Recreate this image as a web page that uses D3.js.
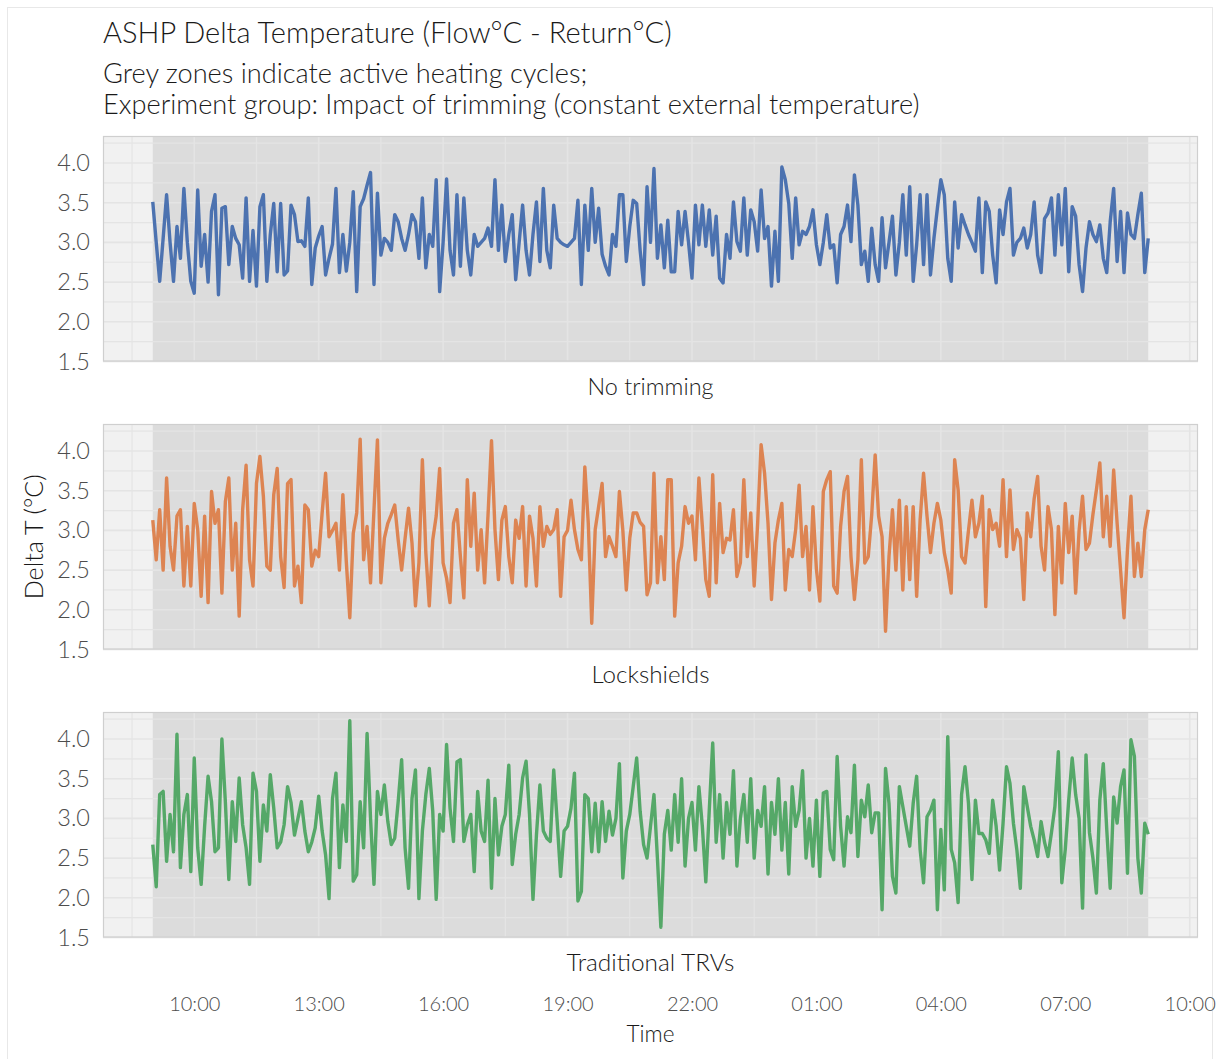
<!DOCTYPE html>
<html>
<head>
<meta charset="utf-8">
<script src="https://cdn.jsdelivr.net/npm/d3@7"></script>
<style>
  html, body { margin: 0; padding: 0; background: #ffffff; }
  svg text { font-family: "Lato", "Open Sans", sans-serif; font-weight: 300; }
</style>
</head>
<body>
<svg id="chart" width="1220" height="1059"></svg>
<script>
// ---- Data: ASHP delta T (flow - return), 5-minute readings over 24 h ----
const seriesStart = [2024, 0, 15, 9, 0];   // 09:00, first reading
const stepMinutes = 5;

const groups = ["No trimming", "Lockshields", "Traditional TRVs"];
const groupColors = ["#4C72B0", "#DD8452", "#55A868"];

// one row per hour, 12 readings each
const noTrimming = [
  3.51, 3.00, 2.51, 3.05, 3.60, 3.00, 2.51, 3.20, 2.80, 3.68, 3.00, 2.51,
  2.36, 3.66, 2.70, 3.10, 2.50, 3.39, 3.60, 2.34, 3.43, 3.45, 2.72, 3.20,
  3.05, 2.97, 2.55, 3.56, 2.51, 3.15, 2.45, 3.45, 3.60, 2.51, 3.10, 3.49,
  2.63, 3.49, 2.59, 2.64, 3.47, 3.35, 3.01, 3.02, 2.95, 3.56, 2.47, 2.93,
  3.08, 3.20, 2.59, 2.80, 2.98, 3.68, 2.62, 3.10, 2.64, 3.00, 3.64, 2.38,
  3.45, 3.55, 3.72, 3.88, 2.47, 3.62, 2.84, 3.05, 3.00, 2.90, 3.35, 3.26,
  3.05, 2.90, 3.10, 3.35, 3.26, 2.80, 3.56, 2.68, 3.10, 2.95, 3.79, 2.38,
  3.00, 3.80, 2.90, 2.59, 3.60, 2.70, 3.56, 2.90, 2.59, 3.10, 2.95, 3.00,
  3.05, 3.18, 2.95, 3.79, 2.90, 3.47, 2.76, 3.10, 3.35, 2.53, 3.00, 3.47,
  2.90, 2.59, 3.10, 3.51, 2.76, 3.68, 2.90, 2.68, 3.47, 3.05, 3.00, 2.97,
  2.95, 3.00, 3.05, 3.53, 2.47, 3.47, 2.90, 3.68, 3.00, 3.43, 2.85, 2.70,
  2.59, 3.10, 2.95, 3.60, 3.60, 2.76, 3.20, 3.53, 3.49, 2.90, 2.47, 3.70,
  3.00, 3.93, 2.80, 3.22, 2.68, 3.28, 2.63, 2.63, 3.39, 2.97, 3.39, 3.00,
  2.55, 3.47, 2.97, 3.47, 2.95, 3.41, 2.84, 3.33, 2.55, 2.49, 3.10, 2.80,
  3.51, 3.01, 2.89, 3.56, 2.84, 3.41, 3.26, 2.89, 3.66, 3.05, 3.20, 2.45,
  3.14, 2.51, 3.95, 3.79, 3.49, 2.80, 3.56, 2.97, 3.14, 3.10, 3.20, 3.41,
  2.97, 2.72, 3.00, 3.35, 2.93, 2.97, 2.49, 3.10, 3.20, 3.47, 3.01, 3.85,
  3.47, 2.72, 2.89, 2.51, 3.18, 2.72, 2.51, 3.31, 2.68, 3.00, 3.33, 2.59,
  3.00, 3.60, 2.84, 3.70, 2.51, 2.97, 3.60, 2.72, 3.60, 2.59, 3.05, 3.43,
  3.79, 3.60, 2.80, 2.51, 3.51, 2.93, 3.35, 3.22, 3.10, 3.00, 2.89, 3.56,
  2.62, 3.51, 3.39, 2.84, 2.49, 3.41, 3.10, 3.51, 3.68, 2.84, 3.00, 3.05,
  3.18, 2.93, 3.10, 3.51, 2.84, 2.62, 3.30, 3.37, 3.56, 2.84, 3.60, 2.97,
  3.68, 2.63, 3.45, 3.33, 2.72, 2.38, 2.93, 3.26, 3.10, 3.01, 3.22, 2.80,
  2.62, 3.26, 3.68, 2.76, 3.39, 2.62, 3.37, 3.10, 3.05, 3.35, 3.62, 2.62,
  3.05
];

const lockshields = [
  3.13, 2.63, 3.26, 2.50, 3.66, 2.80, 2.50, 3.18, 3.26, 2.30, 3.05, 2.30,
  3.34, 3.01, 2.17, 3.18, 2.09, 3.49, 3.09, 3.26, 2.21, 3.36, 3.66, 2.50,
  3.09, 1.92, 3.26, 3.82, 2.63, 2.30, 3.59, 3.93, 3.43, 2.55, 2.50, 3.45,
  3.78, 2.67, 2.28, 3.59, 3.64, 2.30, 2.55, 2.09, 3.32, 3.26, 2.55, 2.75,
  2.67, 3.22, 3.72, 2.92, 3.00, 3.09, 2.50, 3.45, 2.60, 1.90, 2.96, 3.22,
  4.15, 2.63, 3.05, 2.34, 3.26, 4.14, 2.34, 2.90, 3.09, 3.20, 3.32, 2.88,
  2.50, 2.90, 3.28, 2.84, 2.05, 2.59, 3.89, 2.72, 2.05, 2.88, 3.18, 3.78,
  2.59, 2.40, 2.09, 3.09, 3.26, 2.67, 2.15, 3.64, 2.80, 3.47, 2.50, 3.01,
  2.34, 3.20, 4.13, 3.01, 2.38, 3.13, 3.30, 2.67, 2.34, 3.13, 2.90, 3.30,
  2.30, 3.18, 2.90, 2.30, 3.30, 2.80, 3.05, 2.95, 3.01, 3.26, 2.17, 2.92,
  3.00, 3.38, 3.01, 2.76, 2.63, 3.80, 3.09, 1.83, 3.01, 3.30, 3.59, 2.67,
  2.92, 2.80, 2.67, 3.49, 3.00, 2.25, 2.90, 3.22, 3.22, 3.10, 3.05, 2.19,
  2.34, 3.72, 2.34, 2.92, 2.38, 3.64, 3.64, 1.92, 2.59, 2.80, 3.30, 3.09,
  3.18, 2.63, 3.66, 3.05, 2.38, 2.17, 3.70, 2.34, 3.34, 2.72, 2.90, 2.88,
  3.26, 2.42, 2.59, 3.64, 2.67, 3.22, 2.30, 3.09, 4.08, 3.72, 3.09, 2.13,
  2.84, 3.13, 3.34, 2.25, 2.76, 2.67, 3.01, 3.57, 2.67, 3.05, 2.25, 3.30,
  2.51, 2.11, 3.49, 3.64, 3.74, 2.30, 2.21, 3.05, 3.49, 3.68, 2.67, 2.13,
  2.63, 3.89, 2.59, 2.67, 3.20, 3.95, 3.18, 2.92, 1.73, 2.67, 3.26, 2.50,
  3.38, 2.25, 3.30, 2.38, 3.30, 2.17, 3.13, 3.72, 3.18, 2.72, 3.09, 3.34,
  3.13, 2.72, 2.50, 2.21, 3.89, 3.51, 2.67, 2.59, 3.00, 3.38, 2.92, 3.09,
  3.43, 2.04, 3.26, 3.01, 3.09, 2.80, 3.64, 2.67, 3.51, 2.76, 3.01, 2.90,
  2.13, 3.22, 2.92, 3.40, 3.68, 2.80, 2.50, 3.30, 3.01, 1.94, 3.05, 2.34,
  3.34, 2.72, 3.18, 2.21, 3.00, 3.43, 2.76, 2.84, 3.20, 3.51, 3.85, 2.92,
  3.43, 2.80, 3.76, 3.09, 2.50, 1.90, 2.76, 3.43, 2.42, 2.84, 2.42, 3.01,
  3.26
];

const traditionalTRVs = [
  2.67, 2.14, 3.30, 3.34, 2.46, 3.05, 2.58, 4.06, 2.38, 3.05, 3.30, 2.33,
  3.76, 2.63, 2.17, 2.90, 3.53, 3.21, 2.58, 2.63, 4.00, 3.21, 2.23, 3.21,
  2.71, 3.51, 2.92, 2.63, 2.17, 3.57, 3.34, 2.46, 3.17, 2.84, 3.55, 3.13,
  2.63, 2.70, 2.92, 3.40, 3.20, 2.79, 3.00, 3.21, 2.84, 2.58, 2.70, 2.88,
  3.28, 2.84, 2.54, 1.99, 3.25, 3.57, 2.38, 3.17, 2.71, 4.23, 2.21, 2.29,
  3.21, 2.63, 4.07, 3.00, 2.17, 3.34, 3.05, 3.42, 2.96, 2.67, 2.75, 3.21,
  3.74, 2.63, 2.12, 3.25, 3.61, 1.99, 2.84, 3.30, 3.63, 3.09, 1.98, 3.05,
  2.84, 3.93, 3.13, 2.71, 3.71, 3.74, 2.71, 2.92, 3.05, 2.33, 3.34, 2.84,
  2.71, 3.48, 2.12, 3.25, 2.54, 2.90, 3.05, 3.67, 2.42, 2.80, 3.05, 3.51,
  3.72, 3.05, 1.98, 2.79, 3.42, 2.84, 2.75, 2.71, 3.61, 2.96, 2.27, 2.84,
  2.90, 3.13, 3.57, 1.96, 2.08, 3.30, 3.25, 2.58, 3.19, 2.58, 3.21, 2.71,
  3.09, 2.79, 3.00, 3.69, 2.25, 2.84, 3.05, 3.40, 3.76, 3.09, 2.67, 2.50,
  2.90, 3.30, 2.50, 1.63, 2.80, 3.10, 2.60, 3.30, 2.70, 3.50, 2.40, 3.00,
  3.20, 2.60, 3.40, 2.90, 2.20, 3.10, 3.95, 2.70, 3.30, 2.50, 3.20, 2.80,
  3.60, 2.40, 3.00, 3.30, 2.70, 3.50, 2.50, 3.10, 2.90, 3.40, 2.30, 3.20,
  2.80, 3.50, 2.60, 3.20, 2.30, 3.40, 2.90, 3.10, 3.60, 2.50, 3.00, 2.40,
  3.23, 2.27, 3.32, 3.34, 2.61, 2.48, 3.78, 2.90, 2.40, 3.02, 2.82, 3.67,
  2.52, 3.23, 3.02, 3.42, 2.82, 3.07, 3.07, 1.85, 3.63, 3.19, 2.27, 2.06,
  3.40, 3.15, 2.90, 2.65, 3.19, 3.53, 2.61, 2.19, 3.02, 3.10, 3.23, 1.85,
  2.86, 2.10, 4.03, 2.61, 2.44, 1.94, 3.30, 3.65, 3.19, 2.23, 3.23, 2.81,
  2.81, 2.73, 2.56, 3.23, 2.90, 2.35, 2.94, 3.65, 3.44, 2.94, 2.60, 2.12,
  3.40, 3.15, 2.90, 2.73, 2.52, 2.96, 2.70, 2.52, 2.82, 3.15, 3.84, 2.19,
  2.61, 3.23, 3.76, 3.30, 3.00, 1.87, 3.80, 2.82, 2.50, 2.06, 3.23, 3.69,
  2.86, 2.12, 3.27, 2.94, 3.40, 3.61, 2.31, 3.99, 3.78, 2.50, 2.06, 2.94,
  2.80
];

const seriesValues = [noTrimming, lockshields, traditionalTRVs];

const yTickValues = [1.5, 2.0, 2.5, 3.0, 3.5, 4.0];
const yMinorValues = [1.75, 2.25, 2.75, 3.25, 3.75, 4.25];
const yLimits = [1.5, 4.34];

const titleText = "ASHP Delta Temperature (Flow°C - Return°C)";
const subtitleLines = [
  "Grey zones indicate active heating cycles;",
  "Experiment group: Impact of trimming (constant external temperature)"
];
const xAxisTitle = "Time";
const yAxisTitle = "Delta T (°C)";

// ---- Layout ----
const svg = d3.select("#chart");
const W = 1220, H = 1059;
const panelLeft = 103, panelRight = 1198;
const panelTops = [136, 424, 712];
const panelHeight = 225.5;

const t0 = new Date(...seriesStart);
const timeAt = i => d3.timeMinute.offset(t0, i * stepMinutes);
const tEnd = timeAt(noTrimming.length - 1);
const span = tEnd - t0;

// heating cycle spans the whole recorded period
const heatingCycles = [[t0, tEnd]];

const x = d3.scaleTime()
  .domain([new Date(+t0 - span * 0.05), new Date(+tEnd + span * 0.05)])
  .range([panelLeft, panelRight]);

// major ticks every 3 h starting 10:00, minor lines half-way between
const firstTick = d3.timeHour.offset(d3.timeDay.floor(t0), 10);
const xMajor = [], xMinor = [];
for (let t = d3.timeMinute.offset(firstTick, -90); t <= x.domain()[1]; t = d3.timeMinute.offset(t, 90)) {
  if (t < x.domain()[0]) continue;
  const k = Math.round((t - firstTick) / 60000 / 90);
  (k % 2 === 0 ? xMajor : xMinor).push(t);
}
const fmt = d3.timeFormat("%H:%M");

// shrink or grow a text's font size until it spans the given width
function fitWidth(sel, target) {
  const w = sel.node().getComputedTextLength();
  const fs = +sel.attr("font-size");
  sel.attr("font-size", fs * target / w);
  return fs * target / w;
}

// outer frame
svg.append("rect")
  .attr("x", 7.5).attr("y", 7.5)
  .attr("width", 1205).attr("height", H + 10)
  .attr("fill", "none").attr("stroke", "#e8e8e8").attr("stroke-width", 1);

// titles
const title = svg.append("text")
  .attr("x", panelLeft).attr("y", 43)
  .attr("fill", "#1a1a1a").attr("font-size", 26)
  .text(titleText);
fitWidth(title, 569);

const subs = subtitleLines.map((s, i) => svg.append("text")
  .attr("x", panelLeft).attr("y", 83 + i * 31)
  .attr("fill", "#1a1a1a").attr("font-size", 23)
  .text(s));
const subFs = fitWidth(subs[1], 817);
subs.forEach(s => s.attr("font-size", subFs));

const stripWidths = [126, 118, 168];
const line = d3.line().curve(d3.curveLinear);

groups.forEach((g, gi) => {
  const top = panelTops[gi];
  const y = d3.scaleLinear().domain(yLimits).range([top + panelHeight, top]);
  const panel = svg.append("g");

  // panel background
  panel.append("rect")
    .attr("x", panelLeft).attr("y", top)
    .attr("width", panelRight - panelLeft).attr("height", panelHeight)
    .attr("fill", "#f1f1f1");

  // active heating zones
  panel.selectAll("rect.zone").data(heatingCycles).join("rect")
    .attr("class", "zone")
    .attr("x", d => x(d[0])).attr("y", top)
    .attr("width", d => x(d[1]) - x(d[0])).attr("height", panelHeight)
    .attr("fill", "#dcdcdc");

  // grid
  const grid = panel.append("g").attr("stroke", "#e4e4e4").attr("stroke-width", 1.2);
  grid.selectAll("line.hmin").data(yMinorValues).join("line")
    .attr("x1", panelLeft).attr("x2", panelRight)
    .attr("y1", d => y(d)).attr("y2", d => y(d));
  grid.selectAll("line.hmaj").data(yTickValues).join("line")
    .attr("x1", panelLeft).attr("x2", panelRight)
    .attr("y1", d => y(d)).attr("y2", d => y(d)).attr("stroke-width", 1.6);
  grid.selectAll("line.vmin").data(xMinor).join("line")
    .attr("y1", top).attr("y2", top + panelHeight)
    .attr("x1", d => x(d)).attr("x2", d => x(d));
  grid.selectAll("line.vmaj").data(xMajor).join("line")
    .attr("y1", top).attr("y2", top + panelHeight)
    .attr("x1", d => x(d)).attr("x2", d => x(d)).attr("stroke-width", 1.6);

  // series
  const pts = seriesValues[gi].map((v, i) => [x(timeAt(i)), y(v)]);
  panel.append("path")
    .attr("d", line(pts))
    .attr("fill", "none")
    .attr("stroke", groupColors[gi])
    .attr("stroke-width", 3.4)
    .attr("stroke-linejoin", "round");

  // panel border
  panel.append("rect")
    .attr("x", panelLeft + 0.5).attr("y", top + 0.5)
    .attr("width", panelRight - panelLeft - 1).attr("height", panelHeight - 1)
    .attr("fill", "none").attr("stroke", "#cfcfcf").attr("stroke-width", 1.2);

  // y axis labels
  const yAxis = d3.axisLeft(y).tickValues(yTickValues).tickFormat(d3.format(".1f")).tickSize(0).tickPadding(13);
  const ya = svg.append("g").attr("transform", `translate(${panelLeft},0)`).call(yAxis);
  ya.select(".domain").remove();
  ya.selectAll("text").attr("font-size", 23.5).attr("fill", "#4d4d4d")
    .style("font-family", "Lato, 'Open Sans', sans-serif").style("font-weight", 300);

  // strip label
  const strip = svg.append("text")
    .attr("x", (panelLeft + panelRight) / 2)
    .attr("y", top + panelHeight + 33)
    .attr("text-anchor", "middle")
    .attr("fill", "#1a1a1a").attr("font-size", 22)
    .text(g);
  fitWidth(strip, stripWidths[gi]);
});

// x axis labels under the last panel
const xAxis = d3.axisBottom(x).tickValues(xMajor).tickFormat(fmt).tickSize(0).tickPadding(0);
const xa = svg.append("g").attr("transform", "translate(0,997)").call(xAxis);
xa.select(".domain").remove();
xa.selectAll("text").attr("font-size", 20).attr("fill", "#4d4d4d").attr("dy", "0.71em")
  .attr("y", 0)
  .style("font-family", "Lato, 'Open Sans', sans-serif").style("font-weight", 300);

// axis titles
const xt = svg.append("text")
  .attr("x", (panelLeft + panelRight) / 2).attr("y", 1042)
  .attr("text-anchor", "middle").attr("fill", "#1a1a1a").attr("font-size", 22)
  .text(xAxisTitle);
fitWidth(xt, 48);

const yt = svg.append("text")
  .attr("transform", `translate(43,${(panelTops[0] + panelTops[2] + panelHeight) / 2}) rotate(-90)`)
  .attr("text-anchor", "middle").attr("fill", "#1a1a1a").attr("font-size", 23)
  .text(yAxisTitle);
fitWidth(yt, 125);
</script>
</body>
</html>
